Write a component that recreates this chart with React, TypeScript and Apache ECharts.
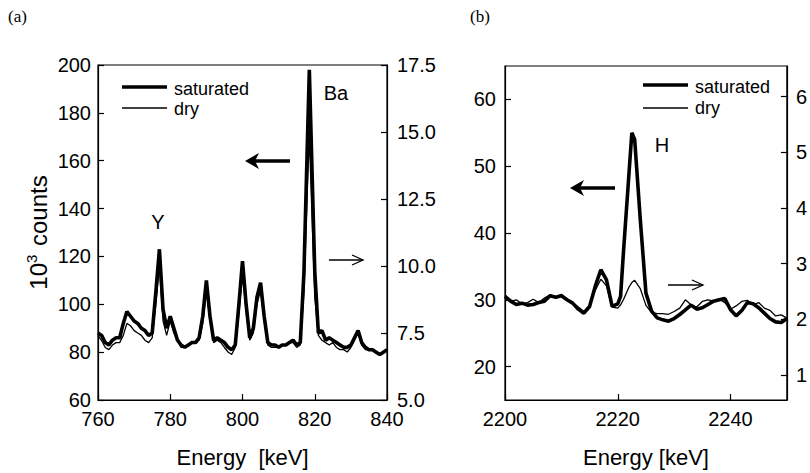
import React, { useEffect, useRef } from 'react';
import * as echarts from 'echarts';

// Panel (a): energy [keV]
const energyA = [
  760, 761, 762, 763, 764, 765, 766, 767, 768, 769, 770, 771, 772, 773, 774, 775, 776, 777, 778, 779,
  780, 781, 782, 783, 784, 785, 786, 787, 788, 789, 790, 791, 792, 793, 794, 795, 796, 797, 798, 799,
  800, 801, 802, 803, 804, 805, 806, 807, 808, 809, 810, 811, 812, 813, 814, 815, 816, 817, 818, 818.5,
  819, 820, 821, 822, 823, 824, 825, 826, 827, 828, 829, 830, 831, 832, 833, 834, 835, 836, 837, 838,
  839, 840,
];
// saturated, left axis (10^3 counts)
const saturatedA = [
  88, 87, 84, 83, 85, 86, 86, 92, 97, 95, 93, 92, 90, 89, 87, 88, 105, 123, 98, 90,
  95, 90, 85, 83, 82, 83, 84, 84, 86, 95, 110, 95, 85, 86, 85, 84, 82, 81, 83, 100,
  118, 100, 86, 90, 103, 109, 95, 84, 83, 83, 82, 83, 83, 84, 85, 83, 84, 113, 170, 198,
  170, 114, 88, 89, 85, 86, 85, 84, 83, 82, 82, 83, 86, 89, 84, 82, 81, 81, 80, 79,
  80, 81,
];
// dry, right axis (10^3 counts)
const dryA = [
  7.4, 7.22, 6.96, 6.88, 7.05, 7.14, 7.14, 7.41, 7.86, 7.77, 7.59, 7.5, 7.41, 7.23, 7.14, 7.32, 8.57, 10.0, 7.95, 7.41,
  7.95, 7.5, 7.23, 6.96, 6.96, 7.05, 7.14, 7.14, 7.23, 7.86, 9.1, 7.95, 7.14, 7.23, 7.14, 6.96, 6.79, 6.7, 6.96, 8.21,
  9.73, 8.3, 7.23, 7.5, 8.57, 9.1, 7.95, 7.05, 6.96, 6.96, 6.96, 7.05, 7.05, 7.14, 7.14, 6.96, 7.05, 9.02, 13.04, 14.82,
  12.86, 8.84, 7.41, 7.23, 7.14, 7.05, 7.14, 6.96, 6.88, 6.88, 6.79, 6.96, 7.23, 7.5, 7.05, 6.88, 6.88, 6.88, 6.79, 6.7,
  6.79, 6.88,
];

// Panel (b): energy [keV]
const energyB = [
  2200, 2201, 2202, 2203, 2204, 2205, 2206, 2207, 2208, 2209, 2210, 2211, 2212, 2213, 2214, 2215, 2216, 2217, 2218, 2219,
  2220, 2220.5, 2221, 2222, 2222.5, 2223, 2224, 2225, 2226, 2227, 2228, 2229, 2230, 2231, 2232, 2233, 2234, 2235, 2236, 2237,
  2238, 2239, 2240, 2241, 2242, 2243, 2244, 2245, 2246, 2247, 2248, 2249, 2250,
];
const saturatedB = [
  30.5, 29.8, 29.3, 29.5, 29.2, 29.3, 29.6, 29.8, 30.6, 30.4, 30.6, 30.0, 29.5, 28.6, 28.0, 29.0, 32.0, 34.5, 33.0, 29.0,
  29.4, 30.5, 37, 49, 55, 54, 42, 31, 28.3, 27.3, 27.0, 26.8, 27.2, 27.8, 28.5, 29.2, 28.6, 28.8, 29.3, 29.8,
  30.0, 30.2, 28.5, 27.6, 28.4, 29.6, 29.4, 28.8, 28.0, 27.2, 26.7, 26.6, 27.2,
];
const dryB = [
  2.4, 2.32, 2.35, 2.28, 2.3, 2.36, 2.3, 2.38, 2.44, 2.4, 2.45, 2.36, 2.3, 2.22, 2.14, 2.25, 2.52, 2.72, 2.6, 2.22,
  2.2, 2.26, 2.35, 2.58, 2.66, 2.7, 2.55, 2.25, 2.12, 2.1, 2.1, 2.09, 2.14, 2.2, 2.35, 2.26, 2.22, 2.32, 2.35, 2.33,
  2.36, 2.3, 2.18, 2.24, 2.32, 2.34, 2.26, 2.3, 2.2, 2.16, 2.06, 2.08, 2.02,
];

const seriesNames = ['saturated', 'dry'];
const xTicksA = { min: 760, max: 840, interval: 20 };
const xTicksB = { min: 2200, max: 2250, interval: 20 };

const FONT = 'Liberation Sans';
const BLACK = '#000';
const THICK = 3.6;
const THIN = 1.3;

function pairs(xs: number[], ys: number[]) {
  return xs.map((x, i) => [x, ys[i]]);
}

const axisLineStyle = { show: true, lineStyle: { color: BLACK, width: 1.2 } };
const tickStyle = { show: true, inside: true, length: 6, lineStyle: { color: BLACK, width: 1.2 } };
const labelBase = { color: BLACK, fontFamily: FONT, fontSize: 20 };

const legendData = seriesNames.map((n) => ({ name: n, icon: 'none' }));

// legend sample line (drawn beside the legend text)
function sample(x: number, y: number, w: number) {
  return { type: 'line', shape: { x1: x, y1: y, x2: x + 45, y2: y }, style: { stroke: BLACK, lineWidth: w } };
}

export default function App() {
  const ref = useRef<HTMLDivElement>(null);
  useEffect(() => {
    const chart = echarts.init(ref.current!, null, { renderer: 'svg' });
    const option: any = {
      animation: false,
      backgroundColor: '#fff',
      textStyle: { fontFamily: FONT, color: BLACK },
      grid: [
        { left: 98, top: 65, width: 289, height: 335, show: true, borderColor: BLACK, borderWidth: 1.2 },
        { left: 505, top: 66, width: 285, height: 334, show: true, borderColor: BLACK, borderWidth: 1.2 },
      ],
      legend: [
        {
          data: legendData, orient: 'vertical', left: 116, top: 75, itemWidth: 48, itemHeight: 14, itemGap: 2,
          textStyle: { fontFamily: FONT, fontSize: 18, color: BLACK }, selectedMode: false,
        },
        {
          data: legendData, orient: 'vertical', left: 637, top: 73, itemWidth: 48, itemHeight: 14, itemGap: 3,
          textStyle: { fontFamily: FONT, fontSize: 18, color: BLACK }, selectedMode: false,
        },
      ],
      xAxis: [
        {
          type: 'value', gridIndex: 0, ...xTicksA,
          axisLine: axisLineStyle, axisTick: tickStyle, splitLine: { show: false },
          axisLabel: { ...labelBase, margin: 9, formatter: (v: number) => String(v) },
          name: 'Energy  [keV]', nameLocation: 'middle', nameGap: 46,
          nameTextStyle: { fontFamily: FONT, fontSize: 22, color: BLACK },
        },
        {
          type: 'value', gridIndex: 1, ...xTicksB,
          axisLine: axisLineStyle, axisTick: tickStyle, splitLine: { show: false },
          axisLabel: { ...labelBase, margin: 9, showMaxLabel: false, formatter: (v: number) => String(v) },
          name: 'Energy [keV]', nameLocation: 'middle', nameGap: 46,
          nameTextStyle: { fontFamily: FONT, fontSize: 22, color: BLACK },
        },
      ],
      yAxis: [
        {
          type: 'value', gridIndex: 0, position: 'left', min: 60, max: 200, interval: 20,
          axisLine: axisLineStyle, axisTick: tickStyle, splitLine: { show: false },
          axisLabel: { ...labelBase, margin: 7 },
          name: '10{sup|3} counts', nameLocation: 'middle', nameGap: 44,
          nameTextStyle: {
            fontFamily: FONT, fontSize: 24, color: BLACK, lineHeight: 30,
            rich: { sup: { fontFamily: FONT, fontSize: 15, color: BLACK, verticalAlign: 'top', lineHeight: 30, padding: [0, 2, 10, 0] } },
          },
        },
        {
          type: 'value', gridIndex: 0, position: 'right', min: 5, max: 17.5, interval: 2.5,
          axisLine: axisLineStyle, axisTick: tickStyle, splitLine: { show: false },
          axisLabel: { ...labelBase, margin: 10, formatter: (v: number) => v.toFixed(1) },
        },
        {
          type: 'value', gridIndex: 1, position: 'left', min: 15, max: 65, splitNumber: 5,
          axisLine: axisLineStyle, axisTick: tickStyle, splitLine: { show: false },
          axisLabel: { ...labelBase, margin: 9, showMinLabel: false, showMaxLabel: false },
        },
        {
          type: 'value', gridIndex: 1, position: 'right', min: 0.55, max: 6.55, splitNumber: 6,
          axisLine: axisLineStyle, axisTick: tickStyle, splitLine: { show: false },
          axisLabel: { ...labelBase, margin: 9, showMinLabel: false, showMaxLabel: false, formatter: (v: number) => String(Math.round(v)) },
        },
      ],
      series: [
        {
          name: 'saturated', type: 'line', xAxisIndex: 0, yAxisIndex: 0, data: pairs(energyA, saturatedA),
          symbol: 'none', lineStyle: { color: BLACK, width: THICK }, itemStyle: { color: BLACK }, z: 3,
        },
        {
          name: 'dry', type: 'line', xAxisIndex: 0, yAxisIndex: 1, data: pairs(energyA, dryA),
          symbol: 'none', lineStyle: { color: BLACK, width: THIN }, itemStyle: { color: BLACK }, z: 4,
        },
        {
          name: 'saturated', type: 'line', xAxisIndex: 1, yAxisIndex: 2, data: pairs(energyB, saturatedB),
          symbol: 'none', lineStyle: { color: BLACK, width: THICK }, itemStyle: { color: BLACK }, z: 3,
        },
        {
          name: 'dry', type: 'line', xAxisIndex: 1, yAxisIndex: 3, data: pairs(energyB, dryB),
          symbol: 'none', lineStyle: { color: BLACK, width: THIN }, itemStyle: { color: BLACK }, z: 4,
        },
      ],
      graphic: [
        { type: 'text', left: 8, top: 8, style: { text: '(a)', font: '17px "Liberation Serif"', fill: BLACK } },
        { type: 'text', left: 470, top: 8, style: { text: '(b)', font: '17px "Liberation Serif"', fill: BLACK } },
        sample(122, 87, THICK),
        sample(122, 108, THIN),
        sample(643, 85, THICK),
        sample(643, 108, THIN),
        { type: 'text', x: 158, y: 222, style: { text: 'Y', font: '20px "Liberation Sans"', fill: BLACK, align: 'center', verticalAlign: 'middle' } },
        { type: 'text', x: 336, y: 93, style: { text: 'Ba', font: '20px "Liberation Sans"', fill: BLACK, align: 'center', verticalAlign: 'middle' } },
        { type: 'text', x: 662, y: 145, style: { text: 'H', font: '20px "Liberation Sans"', fill: BLACK, align: 'center', verticalAlign: 'middle' } },
        // thick left arrow (a)
        { type: 'line', shape: { x1: 290, y1: 161, x2: 252, y2: 161 }, style: { stroke: BLACK, lineWidth: 3.5 } },
        { type: 'polygon', shape: { points: [[245, 161], [259, 153], [255, 161], [259, 169]] }, style: { fill: BLACK } },
        // thin right arrow (a)
        { type: 'line', shape: { x1: 329, y1: 260, x2: 363, y2: 260 }, style: { stroke: BLACK, lineWidth: 1.3 } },
        { type: 'polyline', shape: { points: [[352, 255], [363, 260], [352, 265]] }, style: { stroke: BLACK, lineWidth: 1.3, fill: 'none' } },
        // thick left arrow (b)
        { type: 'line', shape: { x1: 615, y1: 188, x2: 577, y2: 188 }, style: { stroke: BLACK, lineWidth: 3.5 } },
        { type: 'polygon', shape: { points: [[570, 188], [584, 180], [580, 188], [584, 196]] }, style: { fill: BLACK } },
        // thin right arrow (b)
        { type: 'line', shape: { x1: 668, y1: 285, x2: 703, y2: 285 }, style: { stroke: BLACK, lineWidth: 1.3 } },
        { type: 'polyline', shape: { points: [[692, 280], [703, 285], [692, 290]] }, style: { stroke: BLACK, lineWidth: 1.3, fill: 'none' } },
      ],
    };
    chart.setOption(option);
    return () => chart.dispose();
  }, []);
  return (
    <div
      ref={ref}
      style={{ position: 'absolute', left: 0, top: 0, width: 810, height: 473, background: '#fff', overflow: 'hidden' }}
    />
  );
}
